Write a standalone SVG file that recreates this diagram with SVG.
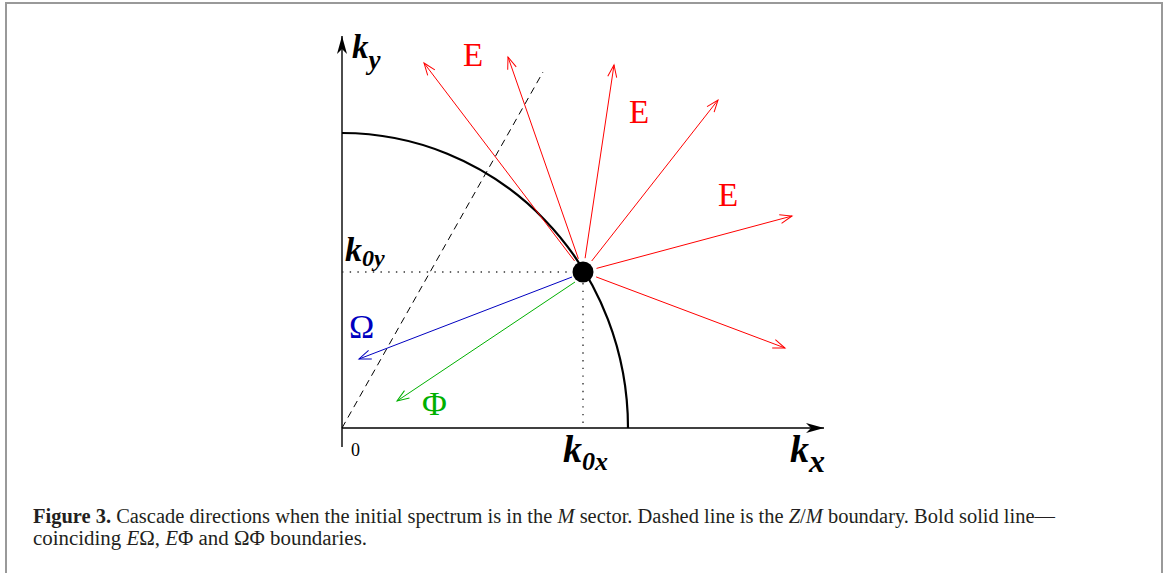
<svg xmlns="http://www.w3.org/2000/svg" width="1168" height="573" viewBox="0 0 1168 573">
<style>
.lbl{font-family:"Liberation Serif","Times New Roman",serif;}
.kb{font-family:"Liberation Serif","Times New Roman",serif;font-weight:bold;font-style:italic;fill:#000;}
.red{stroke:#ff0000;stroke-width:1;fill:none;}
.cap{font-family:"Liberation Serif","Times New Roman",serif;font-size:20px;fill:#231f20;}
</style>
<defs>
<marker id="axh" markerUnits="userSpaceOnUse" orient="auto" markerWidth="24" markerHeight="14" refX="0" refY="0" viewBox="-20 -7 24 14" overflow="visible">
<path d="M0,0 L-18,-5 L-13,0 L-18,5 Z" fill="#000"/>
</marker>
<marker id="ar" markerUnits="userSpaceOnUse" orient="auto" overflow="visible" refX="0" refY="0" markerWidth="14" markerHeight="10" viewBox="-13 -5 14 10">
<path d="M-12,-4.5 L0,0 L-12,4.5" fill="none" stroke="#ff0000" stroke-width="1"/>
</marker>
<marker id="ab" markerUnits="userSpaceOnUse" orient="auto" overflow="visible" refX="0" refY="0" markerWidth="14" markerHeight="10" viewBox="-13 -5 14 10">
<path d="M-12,-4.5 L0,0 L-12,4.5" fill="none" stroke="#0000c0" stroke-width="1"/>
</marker>
<marker id="ag" markerUnits="userSpaceOnUse" orient="auto" overflow="visible" refX="0" refY="0" markerWidth="14" markerHeight="10" viewBox="-13 -5 14 10">
<path d="M-12,-4.5 L0,0 L-12,4.5" fill="none" stroke="#00b000" stroke-width="1"/>
</marker>
</defs>
<rect x="0" y="0" width="1168" height="573" fill="#fff"/>
<rect x="6" y="3" width="1156" height="620" fill="none" stroke="#999" stroke-width="2"/>

<g id="axes">
<line x1="342" y1="447" x2="342" y2="36" stroke="#000" stroke-width="1.4" marker-end="url(#axh)"/>
<line x1="342" y1="428" x2="824" y2="428" stroke="#000" stroke-width="1.4" marker-end="url(#axh)"/>
</g>

<g id="boundaries">
<path d="M342,133 A286,295 0 0 1 628,428" fill="none" stroke="#000" stroke-width="2.2"/>
<line x1="342" y1="428" x2="543" y2="72" stroke="#000" stroke-width="1" stroke-dasharray="7,5"/>
<line x1="342" y1="272" x2="575" y2="272" stroke="#333" stroke-width="1.4" stroke-dasharray="1.4,6.3"/>
<line x1="583" y1="283" x2="583" y2="428" stroke="#333" stroke-width="1.4" stroke-dasharray="1.4,6.3"/>
</g>

<g id="connectors">
<line class="red" x1="574.5" y1="260.9" x2="424" y2="63" marker-end="url(#ar)"/>
<line class="red" x1="578.4" y1="258.8" x2="508" y2="57" marker-end="url(#ar)"/>
<line class="red" x1="585.1" y1="258.2" x2="614" y2="65" marker-end="url(#ar)"/>
<line class="red" x1="591.7" y1="261" x2="718" y2="100" marker-end="url(#ar)"/>
<line class="red" x1="596.5" y1="268.4" x2="792" y2="216" marker-end="url(#ar)"/>
<line class="red" x1="596.1" y1="276.9" x2="785" y2="348" marker-end="url(#ar)"/>
<line x1="572" y1="277" x2="359" y2="359" stroke="#0000c0" stroke-width="1" marker-end="url(#ab)"/>
<line x1="575" y1="282" x2="397" y2="401" stroke="#00b000" stroke-width="1" marker-end="url(#ag)"/>
</g>

<g id="point">
<circle cx="583" cy="272" r="10.5" fill="#000"/>
</g>

<g id="labels">
<text class="kb" x="352" y="58" font-size="33">k<tspan font-size="27" dy="11">y</tspan></text>
<text class="kb" x="345" y="261" font-size="34">k<tspan font-size="24" dy="5">0y</tspan></text>
<text class="kb" x="563" y="462" font-size="38">k<tspan font-size="26" dy="8">0x</tspan></text>
<text class="kb" x="790" y="462" font-size="38">k<tspan font-size="32" dy="10">x</tspan></text>
<text class="lbl" x="351" y="456" font-size="18" fill="#000">0</text>
<text class="lbl" x="463" y="66" font-size="33" fill="#ff0000">E</text>
<text class="lbl" x="629" y="123" font-size="33" fill="#ff0000">E</text>
<text class="lbl" x="718" y="206" font-size="33" fill="#ff0000">E</text>
<text class="lbl" x="349" y="338" font-size="34" fill="#0000c0">Ω</text>
<text class="lbl" x="422" y="415" font-size="34" fill="#00b000">Φ</text>
</g>

<g id="caption">
<text class="cap" x="33" y="523" textLength="1022" lengthAdjust="spacingAndGlyphs"><tspan font-weight="bold">Figure 3.</tspan> Cascade directions when the initial spectrum is in the <tspan font-style="italic">M</tspan> sector. Dashed line is the <tspan font-style="italic">Z</tspan>/<tspan font-style="italic">M</tspan> boundary. Bold solid line—</text>
<text class="cap" x="33" y="545" textLength="334" lengthAdjust="spacingAndGlyphs">coinciding <tspan font-style="italic">E</tspan>Ω, <tspan font-style="italic">E</tspan>Φ and ΩΦ boundaries.</text>
</g>
</svg>
